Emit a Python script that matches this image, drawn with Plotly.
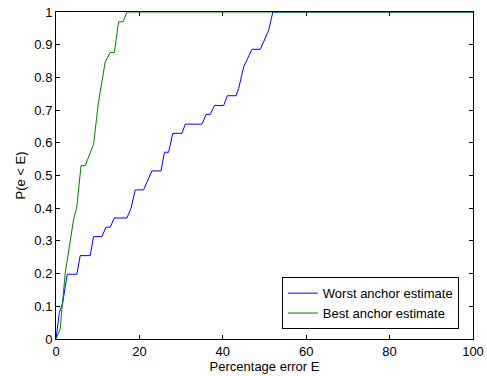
import plotly.graph_objects as go

# Worst anchor estimate CDF (percentage error, probability)
worst_err = [0, 0.8, 1.3, 1.6, 2.7, 5.0, 5.8, 8.2, 9.0, 11.0, 12.0, 13.0, 14.0, 17.0, 18.0, 19.0,
             21.0, 23.0, 25.2, 26.0, 27.0, 28.0, 30.2, 31.0, 35.0, 36.0, 37.0, 38.0, 40.2, 41.1,
             43.2, 43.8, 45.0, 47.0, 49.0, 51.0, 52.0, 100]
worst_p = [0, 0.081, 0.10, 0.11, 0.198, 0.198, 0.255, 0.255, 0.313, 0.313, 0.342, 0.342, 0.37,
           0.37, 0.40, 0.456, 0.456, 0.514, 0.514, 0.571, 0.571, 0.629, 0.629, 0.657, 0.657,
           0.687, 0.687, 0.714, 0.714, 0.744, 0.744, 0.766, 0.832, 0.886, 0.886, 0.944, 1.0, 1.0]

# Best anchor estimate CDF
best_err = [0, 1.0, 2.2, 3.4, 4.2, 5.0, 6.0, 7.0, 9.0, 10.2, 11.8, 13.0, 14.0, 15.0, 16.1, 17.0, 100]
best_p = [0, 0.03, 0.2, 0.30, 0.364, 0.405, 0.53, 0.53, 0.595, 0.725, 0.847, 0.876, 0.876,
          0.97, 0.97, 1.0, 1.0]

x_ticks = [0, 20, 40, 60, 80, 100]
y_ticks = [0, 0.1, 0.2, 0.3, 0.4, 0.5, 0.6, 0.7, 0.8, 0.9, 1]
y_tick_labels = ["0", "0.1", "0.2", "0.3", "0.4", "0.5", "0.6", "0.7", "0.8", "0.9", "1"]

font = "Liberation Sans, Arial, Helvetica, sans-serif"

fig = go.Figure()
fig.add_trace(go.Scatter(x=worst_err, y=worst_p, mode="lines", name="Worst anchor estimate",
                         line=dict(color="#0000ff", width=1), cliponaxis=False))
fig.add_trace(go.Scatter(x=best_err, y=best_p, mode="lines", name="Best anchor estimate",
                         line=dict(color="#008000", width=1), cliponaxis=False))

axis_common = dict(showline=True, linecolor="black", linewidth=1, mirror="allticks",
                   ticks="inside", ticklen=4, tickcolor="black", showgrid=False, zeroline=False,
                   automargin=False,
                   tickfont=dict(family=font, size=13, color="black"))

fig.update_layout(
    width=487, height=376,
    margin=dict(l=56, r=14, t=12, b=37),
    paper_bgcolor="white", plot_bgcolor="white",
    font=dict(family=font, size=13, color="black"),
    xaxis=dict(range=[0, 100], tickvals=x_ticks, ticktext=[str(v) for v in x_ticks],
               title=dict(text="Percentage error E", standoff=0, font=dict(size=13)),
               **axis_common),
    yaxis=dict(range=[0, 1], tickvals=y_ticks, ticktext=y_tick_labels,
               title=dict(text="P(e < E)", standoff=5, font=dict(size=13)),
               **axis_common),
    legend=dict(x=0.966, y=0.03, xanchor="right", yanchor="bottom",
                bordercolor="black", borderwidth=1, bgcolor="white",
                font=dict(family=font, size=13), tracegroupgap=0, itemwidth=30),
    showlegend=True,
)

fig.write_html("out.html")
